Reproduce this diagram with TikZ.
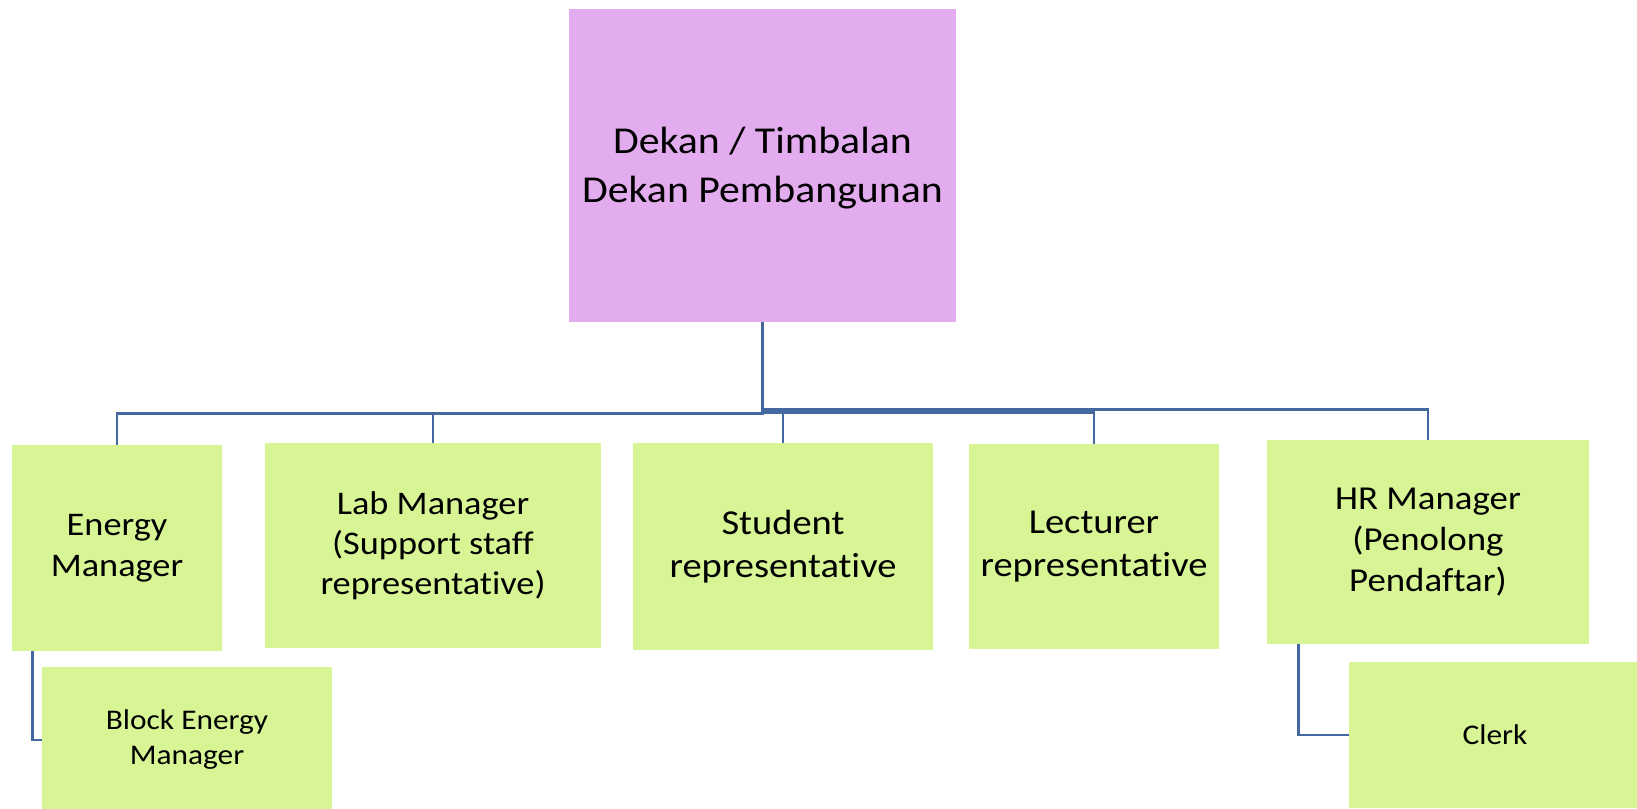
\documentclass[tikz,border=0pt]{standalone}
\usepackage{fontspec}
\setmainfont{Carlito}[FakeStretch=1.1, Ligatures=NoCommon]
\begin{document}
\begin{tikzpicture}[x=1pt,y=-1pt,
  every node/.style={inner sep=0pt, align=center, text=black},
  headbox/.style={fill=headfill, minimum width=387pt, minimum height=313pt},
  memberbox/.style={fill=memberfill},
  link/.style={draw=linkblue, line width=2.9pt}]
\definecolor{headfill}{RGB}{227,172,238}
\definecolor{memberfill}{RGB}{216,245,149}
\definecolor{linkblue}{RGB}{67,105,158}

\clip (0,0) rectangle (1637,808);
\fill[white] (0,0) rectangle (1637,808);

% head of the committee (box and its text placed separately)
\node[headbox] (top) at (762.5,165.5) {};
\node[font=\fontsize{38}{49}\selectfont] (toptext) at (762.5,168)
  {Dekan / Timbalan\\Dekan Pembangunan};

% committee members
\node[memberbox, minimum width=210pt, minimum height=206pt,
  font=\fontsize{33}{41}\selectfont] (energy) at (117,548) {Energy\\Manager};
\node[memberbox, minimum width=336pt, minimum height=205pt,
  font=\fontsize{33}{40}\selectfont] (lab) at (433,545.5)
  {Lab Manager\\(Support staff\\representative)};
\node[memberbox, minimum width=300pt, minimum height=207pt,
  font=\fontsize{35}{43}\selectfont] (student) at (783,546.5) {Student\\representative};
\node[memberbox, minimum width=250pt, minimum height=205pt,
  font=\fontsize{35}{43}\selectfont] (lecturer) at (1094,546.5) {Lecturer\\representative};
\node[memberbox, minimum width=322pt, minimum height=204pt,
  font=\fontsize{33.5}{41}\selectfont] (hr) at (1428,542)
  {HR Manager\\(Penolong\\Pendaftar)};

% assistants
\node[memberbox, minimum width=290pt, minimum height=146pt,
  font=\fontsize{28.5}{35}\selectfont] (block) at (187,740) {Block Energy\\Manager};
\node[memberbox, minimum width=292pt, minimum height=146pt,
  font=\fontsize{28.5}{35}\selectfont] (clerk) at (1495,735) {Clerk};

% elbow connectors from the head to each member
\draw[link] (top.south) |- ([yshift=31pt]energy.north) -- (energy.north);
\draw[link] (top.south) |- ([yshift=29pt]lab.north) -- (lab.north);
\draw[link] (top.south) |- ([yshift=30pt]student.north) -- (student.north);
\draw[link] (top.south) |- ([yshift=31pt]lecturer.north) -- (lecturer.north);
\draw[link] (top.south) |- ([yshift=30pt]hr.north) -- (hr.north);

% connectors to the assistants
\draw[link] ([xshift=21pt]energy.south west) |- (block.west);
\draw[link] ([xshift=32pt]hr.south west) |- (clerk.west);
\end{tikzpicture}
\end{document}
